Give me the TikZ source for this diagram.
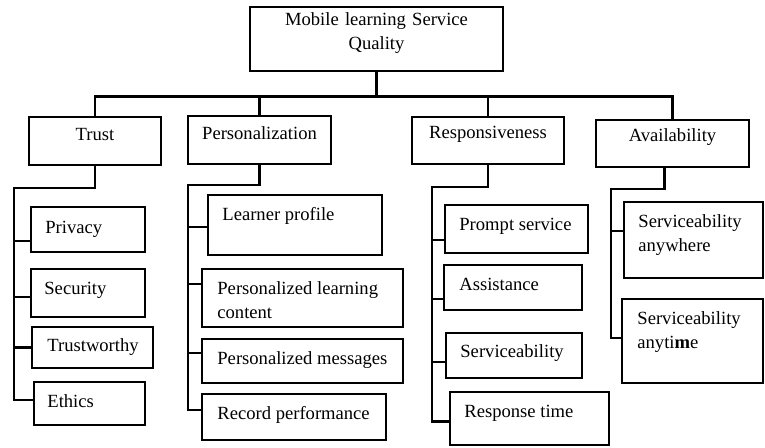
\documentclass[tikz,border=0pt]{standalone}
\usepackage{fontspec}
\setmainfont{Liberation Serif}
\usetikzlibrary{fit}

\tikzset{
  box/.style={draw, line width=1.25pt, inner sep=0pt},
  head/.style={box, text height=6.5pt, text depth=6pt},
  txt/.style={inner sep=0pt, anchor=base west, align=left},
  link/.style={line width=1.25pt},
}

\begin{document}
\begin{tikzpicture}[x=0.5pt, y=-0.5pt, font=\fontsize{9.3}{12}\selectfont]
\useasboundingbox (0,0) rectangle (765,447);

% root and the four dimensions
\node[box, fit={(250,7) (503,71)}, align=center] (root) {Mobile learning Service\\Quality};
\node[head, fit={(29,117) (161,165)}] (trust) {Trust};
\node[head, fit={(188,116) (331,164)}] (pers) {Personalization};
\node[head, fit={(412,117) (564,164)}] (resp) {Responsiveness};
\node[head, fit={(596,120) (749,167)}] (avail) {Availability};

% trust items
\node[box, fit={(31,207) (145,252)}] (privacy) {};
\node[box, fit={(31,269) (145,317)}] (security) {};
\node[box, fit={(32,327) (153,368)}] (trusty) {};
\node[box, fit={(34,382) (145,425)}] (ethics) {};
\node[txt] (privacy-t) at (45,233) {Privacy};
\node[txt] (security-t) at (44,294) {Security};
\node[txt] (trusty-t) at (47,351) {Trustworthy};
\node[txt] (ethics-t) at (47,407) {Ethics};

% personalization items
\node[box, fit={(208,195) (382,255)}] (profile) {};
\node[box, fit={(202,269) (403,327)}] (content) {};
\node[box, fit={(202,339) (403,383)}] (messages) {};
\node[box, fit={(202,394) (386,440)}] (record) {};
\node[txt] (profile-t) at (222,220) {Learner profile};
% two-line labels sit on the baseline of their last line
\node[txt] (content-t) at (217,318) {Personalized learning\\content};
\node[txt] (messages-t) at (217,364) {Personalized messages};
\node[txt] (record-t) at (217,419) {Record performance};

% responsiveness items
\node[box, fit={(445,205) (588,253)}] (prompt) {};
\node[box, fit={(444,265) (582,310)}] (assist) {};
\node[box, fit={(446,333) (582,378)}] (service) {};
\node[box, fit={(450,392) (609,445)}] (resptime) {};
\node[txt] (prompt-t) at (459,230) {Prompt service};
\node[txt] (assist-t) at (459,290) {Assistance};
\node[txt] (service-t) at (460,357) {Serviceability};
\node[txt] (resptime-t) at (464,417) {Response time};

% availability items
\node[box, fit={(624,202) (763,278)}] (anywhere) {};
\node[box, fit={(622,299) (763,383)}] (anytime) {};
\node[txt] (anywhere-t) at (638,251) {Serviceability\\anywhere};
\node[txt] (anytime-t) at (637,348) {Serviceability\\anyti\textbf{m}e};

% bus under the root
\draw[link] (root.south) -- ++(0,24) coordinate (bus);
\draw[link] (trust.north) |- (bus) -| (avail.north);
\draw[link] (pers.north) -- (pers.north |- bus);
\draw[link] (resp.north) -- (resp.north |- bus);

% spines
\coordinate (tspine) at (14,188);
\coordinate (pspine) at (188,185);
\coordinate (rspine) at (432,187);
\coordinate (aspine) at (611,189);

\draw[link] (trust.south) |- (tspine) |- ([yshift=1.8pt]ethics.west);
\foreach \n/\dy in {privacy/-5.8pt, security/-2pt, trusty/0pt}
  \draw[link] (tspine) |- ([yshift=\dy]\n.west);

\draw[link] (pers.south) |- (pspine) |- ([yshift=3.5pt]record.west);
\foreach \n/\dy in {profile/-1pt, content/7pt, messages/4pt}
  \draw[link] (pspine) |- ([yshift=\dy]\n.west);

\draw[link] (resp.south) |- (rspine) |- ([yshift=-1.5pt]resptime.west);
\foreach \n/\dy in {prompt/-5.5pt, assist/-5.8pt, service/-3.2pt}
  \draw[link] (rspine) |- ([yshift=\dy]\n.west);

\draw[link] ([xshift=-4pt]avail.south) |- (aspine) |- ([yshift=1.5pt]anytime.west);
\draw[link] (aspine) |- ([yshift=4.5pt]anywhere.west);
\end{tikzpicture}
\end{document}
